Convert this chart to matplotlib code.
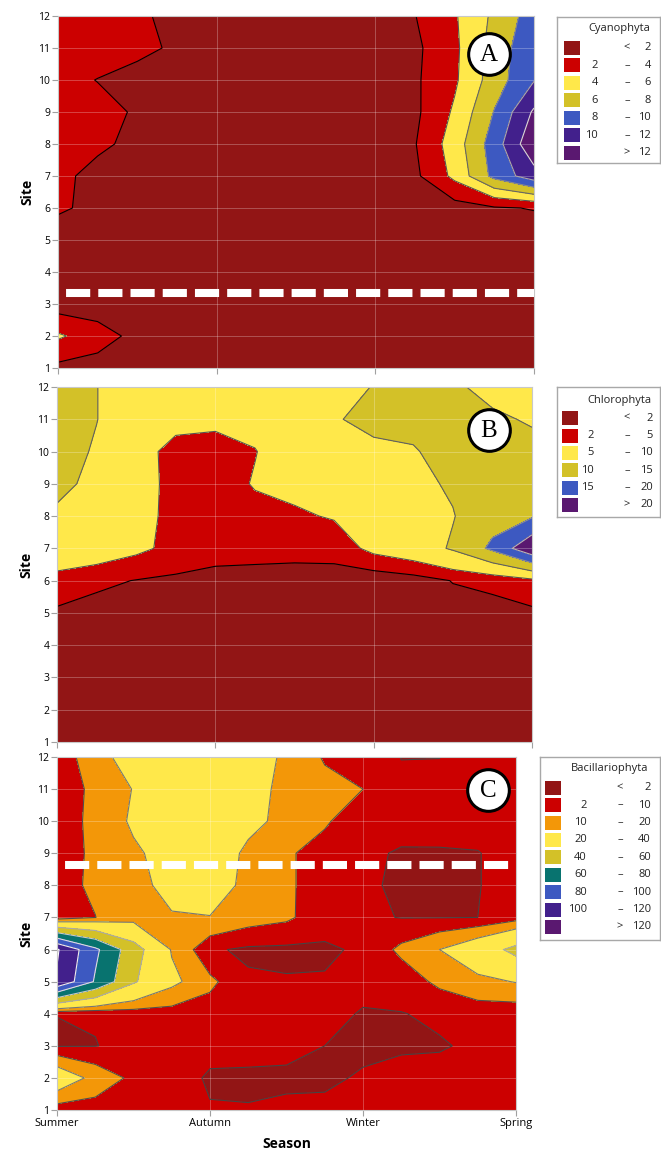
"""Seasonal contour maps of phytoplankton groups along the sampling sites."""

import matplotlib

matplotlib.use("Agg")
import matplotlib.pyplot as plt
import numpy as np
from matplotlib.patches import Rectangle

plt.rcParams["font.family"] = ["Open Sans", "DejaVu Sans"]

W, H = 661, 1156

# --------------------------------------------------------------------- #
# Data
# --------------------------------------------------------------------- #
SEASONS = ["Summer", "Autumn", "Winter", "Spring"]
SEASON_GRID = [0, 0.25, 0.5, 0.75, 1, 1.25, 1.5, 1.75, 2, 2.25, 2.5, 2.75, 3]
SITES = list(range(1, 13))

# rows = site 1..12, columns = SEASON_GRID
CYANO = [
    [1.5, 1.2, 1.0, 0.9, 0.8, 0.8, 0.8, 0.8, 0.9, 0.9, 0.9, 0.9, 0.9],
    [4.3, 2.9, 1.4, 1.0, 0.9, 0.9, 0.9, 0.9, 0.9, 0.9, 0.9, 0.9, 0.9],
    [1.0, 0.9, 0.9, 0.9, 0.9, 0.9, 0.9, 0.9, 0.9, 0.9, 0.9, 0.9, 0.9],
    [0.8, 0.8, 0.8, 0.8, 0.8, 0.8, 0.8, 0.8, 0.8, 0.8, 0.8, 0.8, 0.8],
    [0.5, 0.7, 0.8, 0.8, 0.8, 0.8, 0.8, 0.8, 0.8, 0.8, 0.8, 0.9, 0.9],
    [2.4, 1.3, 1.0, 0.9, 0.8, 0.8, 0.8, 0.8, 0.9, 1.0, 1.2, 1.8, 2.1],
    [2.4, 1.5, 1.2, 1.0, 0.9, 0.9, 0.9, 0.9, 1.0, 1.6, 4.5, 8.6, 11.2],
    [2.8, 2.3, 1.6, 1.1, 0.9, 0.9, 0.9, 0.9, 1.0, 1.9, 5.0, 9.0, 13.6],
    [3.0, 2.6, 1.8, 1.2, 1.0, 1.0, 1.0, 1.0, 1.0, 1.6, 4.3, 8.1, 12.3],
    [2.6, 1.95, 1.3, 1.0, 0.9, 0.9, 0.9, 0.9, 1.0, 1.7, 3.7, 7.0, 9.9],
    [3.0, 2.9, 2.5, 1.7, 1.1, 1.0, 1.0, 1.0, 1.0, 1.6, 3.6, 6.8, 9.6],
    [3.0, 2.8, 2.3, 1.5, 1.1, 1.0, 1.0, 1.0, 1.4, 1.95, 3.8, 6.4, 9.0],
]
CHLORO = [
    [0.6, 0.6, 0.6, 0.6, 0.6, 0.6, 0.6, 0.6, 0.6, 0.6, 0.6, 0.6, 0.6],
    [0.7, 0.7, 0.7, 0.7, 0.7, 0.7, 0.7, 0.7, 0.7, 0.7, 0.7, 0.7, 0.7],
    [0.8, 0.8, 0.8, 0.8, 0.8, 0.8, 0.8, 0.8, 0.8, 0.8, 0.8, 0.8, 0.8],
    [0.9, 0.9, 0.9, 0.9, 0.9, 0.9, 0.9, 0.9, 0.9, 0.9, 0.9, 0.9, 0.9],
    [1.6, 0.98, 0.9, 0.8, 0.8, 0.8, 0.8, 0.8, 0.8, 0.9, 1.0, 1.2, 1.5],
    [3.6, 2.6, 1.9, 1.5, 1.2, 1.0, 0.9, 0.9, 0.2, 0.8, 2.1, 2.6, 4.0],
    [8.3, 7.4, 5.8, 4.0, 3.0, 3.0, 2.9, 3.0, 6.0, 7.6, 10.5, 16.0, 24.0],
    [9.0, 8.0, 6.0, 4.2, 3.5, 4.2, 4.5, 5.3, 7.5, 8.5, 9.8, 13.0, 14.5],
    [11.5, 8.5, 6.0, 4.3, 3.8, 5.2, 6.0, 7.0, 8.5, 9.0, 10.5, 12.0, 13.0],
    [12.0, 9.5, 6.0, 4.2, 4.0, 4.9, 6.5, 8.0, 9.2, 9.6, 12.0, 11.5, 11.5],
    [12.5, 10.1, 7.0, 5.8, 5.6, 5.8, 7.0, 9.7, 11.0, 11.5, 12.0, 10.8, 9.5],
    [12.5, 10.1, 7.0, 7.0, 6.5, 6.5, 7.5, 9.0, 10.1, 11.5, 10.8, 8.5, 8.0],
]
BACILL = [
    [5.3, 6, 5, 4, 2.4, 2.3, 3, 3, 4, 5, 5, 6, 7],
    [30, 16, 8, 5, 1.2, 1.0, 1.0, 1.2, 2.5, 4, 4, 5, 7],
    [1.5, 1.8, 4, 5, 4, 4, 3.5, 2.0, 1.0, 1.2, 1.5, 3, 6],
    [2.06, 2.5, 5, 6, 6, 5, 5, 4, 1.5, 1.8, 3, 5, 4.1],
    [118, 78, 42, 23, 12, 3, 2.5, 2.5, 4, 5, 12, 17, 20.5],
    [122, 84, 48, 19, 3, 0.8, 0.5, 1.0, 3, 12, 20, 30, 45],
    [4, 9.9, 15, 19, 19.5, 14, 11.5, 5, 3, 1.8, 1.8, 2.0, 6],
    [8, 11, 16, 24, 28, 16, 11, 7, 3, 1.0, 1.0, 1.7, 5],
    [8, 10.8, 18, 25, 30, 17, 11, 7, 3, 1.5, 1.3, 1.7, 5],
    [8, 11, 22, 28, 32, 24, 16, 11, 5, 4, 5, 5, 6],
    [8, 10.8, 20.5, 28, 33, 23, 18, 13, 10, 3, 4, 6, 6],
    [8, 12, 30, 30, 35, 26, 18, 9, 7, 1.9, 1.9, 6, 6],
]

CYANO_LEVELS = [2, 4, 6, 8, 10, 12]
CHLORO_LEVELS = [2, 5, 10, 15, 20]
BACILL_LEVELS = [2, 10, 20, 40, 60, 80, 100, 120]

# --------------------------------------------------------------------- #
# Styles
# --------------------------------------------------------------------- #
MAROON, RED, ORANGE, YELLOW = "#921515", "#cc0000", "#f39708", "#ffe84a"
OLIVE, TEAL, BLUE, INDIGO, PURPLE = "#d3c128", "#08736f", "#3d59c1", "#42208c", "#5a1870"

CYANO_COLORS = [MAROON, RED, YELLOW, OLIVE, BLUE, INDIGO, PURPLE]
CHLORO_COLORS = [MAROON, RED, YELLOW, OLIVE, BLUE, PURPLE]
BACILL_COLORS = [MAROON, RED, ORANGE, YELLOW, OLIVE, TEAL, BLUE, INDIGO, PURPLE]

CYANO_LINES = ["black", "#555555", "#666666", "#8a8a8a", "#aaaaaa", "#d8d8d8"]
CHLORO_LINES = ["black", "#555555", "#606060", "#909090", "#b8b8b8"]
BACILL_LINES = ["#444444", "#505050", "#777777", "#aaaaaa", "#c8c8c8",
                "#dddddd", "#eeeeee", "#ffffff"]


def px_box(x0, y0, x1, y1):
    """Figure-fraction rect from pixel corners (origin top-left)."""
    return [x0 / W, 1 - y1 / H, (x1 - x0) / W, (y1 - y0) / H]


def draw_panel(ax, grid, levels, colors, line_colors, letter, letter_pos, dash_y=None):
    z = np.array(grid, dtype=float)
    bounds = [-1e3] + levels + [1e4]
    ax.contourf(SEASON_GRID, SITES, z, levels=bounds, colors=colors, zorder=1)
    ax.contour(SEASON_GRID, SITES, z, levels=levels, colors=line_colors,
               linewidths=0.8, zorder=2)

    ax.set_xlim(0, 3)
    ax.set_ylim(1, 12)
    ax.set_xticks(range(len(SEASONS)))
    ax.set_yticks(SITES)
    ax.grid(True, color="white", alpha=0.3, lw=0.6)
    ax.tick_params(direction="out", length=4, width=0.8, color="#a0a0a0",
                   labelsize=7.5, pad=1.5)
    for sp in ax.spines.values():
        sp.set_color("#c8c8c8")
    ax.set_ylabel("Site", fontweight="bold", fontsize=10, labelpad=3)

    if dash_y is not None:
        ax.axhline(dash_y, color="white", lw=5.8, linestyle=(3.0, (3.0, 1.0)), zorder=3)

    ax.scatter([letter_pos[0]], [letter_pos[1]], s=900, facecolor="white",
               edgecolor="black", linewidths=2.2, transform=ax.transAxes, zorder=10)
    ax.text(letter_pos[0], letter_pos[1] - 0.004, letter, transform=ax.transAxes,
            ha="center", va="center", fontsize=18, family="Liberation Serif", zorder=11)


def draw_legend(fig, box, title, title_xy, levels, colors, row_y0, row_dy,
                sw_x, left_r, dash_x, right_r):
    x0, y0, x1, y1 = box
    lax = fig.add_axes(px_box(x0, y0, x1, y1))
    lax.set_xlim(x0, x1)
    lax.set_ylim(y1, y0)
    lax.set_xticks([])
    lax.set_yticks([])
    for sp in lax.spines.values():
        sp.set_color("#a8a8a8")
        sp.set_linewidth(1.0)

    kw = dict(fontsize=8, va="center", color="#222222")
    lax.text(title_xy[0], title_xy[1], title, ha="center", **kw)
    n = len(levels) + 1
    for i in range(n):
        y = row_y0 + i * row_dy
        lax.add_patch(Rectangle((sw_x[0], y - 7), sw_x[1] - sw_x[0], 14,
                                facecolor=colors[i], edgecolor="none"))
        if i == 0:
            lax.text(dash_x, y, "<", ha="center", **kw)
            lax.text(right_r, y, str(levels[0]), ha="right", **kw)
        elif i == n - 1:
            lax.text(dash_x, y, ">", ha="center", **kw)
            lax.text(right_r, y, str(levels[-1]), ha="right", **kw)
        else:
            lax.text(left_r, y, str(levels[i - 1]), ha="right", **kw)
            lax.text(dash_x, y, "–", ha="center", **kw)
            lax.text(right_r, y, str(levels[i]), ha="right", **kw)


fig = plt.figure(figsize=(W / 100, H / 100), dpi=100)

ax_a = fig.add_axes(px_box(58, 16, 534, 368))
ax_b = fig.add_axes(px_box(57, 387, 532, 742))
ax_c = fig.add_axes(px_box(57, 757, 516, 1110))

draw_panel(ax_a, CYANO, CYANO_LEVELS, CYANO_COLORS, CYANO_LINES, "A", (0.905, 0.892), dash_y=3.35)
draw_panel(ax_b, CHLORO, CHLORO_LEVELS, CHLORO_COLORS, CHLORO_LINES, "B", (0.909, 0.879))
draw_panel(ax_c, BACILL, BACILL_LEVELS, BACILL_COLORS, BACILL_LINES, "C", (0.940, 0.907), dash_y=8.64)

for ax in (ax_a, ax_b):
    ax.set_xticklabels([])
ax_c.set_xticklabels(SEASONS, fontsize=8)
ax_c.set_xlabel("Season", fontweight="bold", fontsize=10, labelpad=6)

draw_legend(fig, (557, 17, 660, 163), "Cyanophyta", (619, 29), CYANO_LEVELS, CYANO_COLORS,
            47.7, 17.5, (564, 580), 598, 627, 651)
draw_legend(fig, (557, 387, 660, 517), "Chlorophyta", (619, 400), CHLORO_LEVELS, CHLORO_COLORS,
            418.3, 17.3, (562, 578), 594, 627, 653)
draw_legend(fig, (540, 757, 660, 940), "Bacillariophyta", (610, 769), BACILL_LEVELS, BACILL_COLORS,
            787.7, 17.4, (545, 561), 587, 620, 651)

fig.savefig("out.png", dpi=100)
